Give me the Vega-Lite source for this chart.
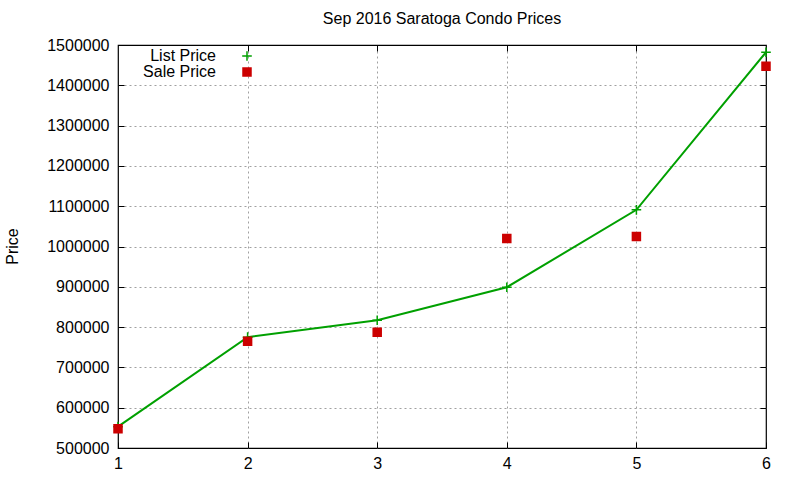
{
  "$schema": "https://vega.github.io/schema/vega-lite/v6.json",
  "width": 648,
  "height": 403,
  "autosize": {"type": "none"},
  "padding": {"left": 118, "top": 45, "right": 34, "bottom": 32},
  "background": "white",
  "config": {
    "font": "Liberation Sans",
    "view": {"stroke": "black", "strokeWidth": 1.2},
    "axis": {
      "labelFont": "Liberation Sans",
      "labelFontSize": 16,
      "labelColor": "black",
      "labelFlush": false,
      "titleFont": "Liberation Sans",
      "titleFontSize": 16,
      "titleFontWeight": "normal",
      "titleColor": "black",
      "domain": false,
      "ticks": true,
      "tickSize": -6,
      "tickColor": "black",
      "tickWidth": 1,
      "gridColor": "#a0a0a0",
      "gridDash": [2, 3],
      "gridWidth": 1,
      "gridOpacity": 1
    }
  },
  "title": {
    "text": "Sep 2016 Saratoga Condo Prices",
    "font": "Liberation Sans",
    "fontSize": 16,
    "fontWeight": "normal",
    "color": "black",
    "offset": 10
  },
  "data": {
    "values": [
      {"x": 1, "series": "List Price", "price": 553000},
      {"x": 2, "series": "List Price", "price": 775000},
      {"x": 3, "series": "List Price", "price": 817000},
      {"x": 4, "series": "List Price", "price": 899000},
      {"x": 5, "series": "List Price", "price": 1091000},
      {"x": 6, "series": "List Price", "price": 1482000},
      {"x": 1, "series": "Sale Price", "price": 548000},
      {"x": 2, "series": "Sale Price", "price": 765000},
      {"x": 3, "series": "Sale Price", "price": 787000},
      {"x": 4, "series": "Sale Price", "price": 1020000},
      {"x": 5, "series": "Sale Price", "price": 1025000},
      {"x": 6, "series": "Sale Price", "price": 1447000}
    ]
  },
  "layer": [
    {
      "transform": [{"filter": "datum.series === 'List Price'"}],
      "mark": {"type": "line", "color": "#00a000", "strokeWidth": 2},
      "encoding": {
        "x": {
          "field": "x",
          "type": "quantitative",
          "scale": {"domain": [1, 6], "nice": false, "zero": false},
          "axis": {"orient": "top", "values": [2, 3, 4, 5], "labels": false, "grid": true, "title": null}
        },
        "y": {
          "field": "price",
          "type": "quantitative",
          "scale": {"domain": [500000, 1500000], "nice": false, "zero": false},
          "axis": {
            "orient": "right",
            "values": [600000, 700000, 800000, 900000, 1000000, 1100000, 1200000, 1300000, 1400000],
            "labels": false,
            "grid": true,
            "title": null
          }
        }
      }
    },
    {
      "mark": {"type": "point", "strokeWidth": 1.5, "opacity": 1, "size": 64},
      "encoding": {
        "x": {
          "field": "x",
          "type": "quantitative",
          "axis": {"values": [1, 2, 3, 4, 5, 6], "format": "d", "title": null, "labelPadding": 13, "grid": false}
        },
        "y": {
          "field": "price",
          "type": "quantitative",
          "axis": {
            "values": [500000, 600000, 700000, 800000, 900000, 1000000, 1100000, 1200000, 1300000, 1400000, 1500000],
            "format": "d",
            "grid": false,
            "title": "Price",
            "labelPadding": 15,
            "titleX": -106,
            "titleY": 201,
            "titleAngle": -90,
            "titleAlign": "center",
            "titleBaseline": "middle"
          }
        },
        "shape": {
          "field": "series",
          "type": "nominal",
          "scale": {"domain": ["List Price", "Sale Price"], "range": ["M-1.2,0H1.2M0,-1.2V1.2", "square"]},
          "legend": {
            "title": null,
            "orient": "none",
            "legendX": 121,
            "legendY": 3,
            "labelFont": "Liberation Sans",
            "labelFontSize": 16,
            "labelColor": "black",
            "labelAlign": "right",
            "labelOffset": -39,
            "rowPadding": 0,
            "symbolSize": 64,
            "symbolStrokeWidth": 1.5
          }
        },
        "fill": {
          "field": "series",
          "type": "nominal",
          "scale": {"domain": ["List Price", "Sale Price"], "range": ["#00a000", "#cc0000"]}
        },
        "stroke": {
          "field": "series",
          "type": "nominal",
          "scale": {"domain": ["List Price", "Sale Price"], "range": ["#00a000", "#cc0000"]}
        }
      }
    }
  ],
  "resolve": {"axis": {"x": "independent", "y": "independent"}}
}
